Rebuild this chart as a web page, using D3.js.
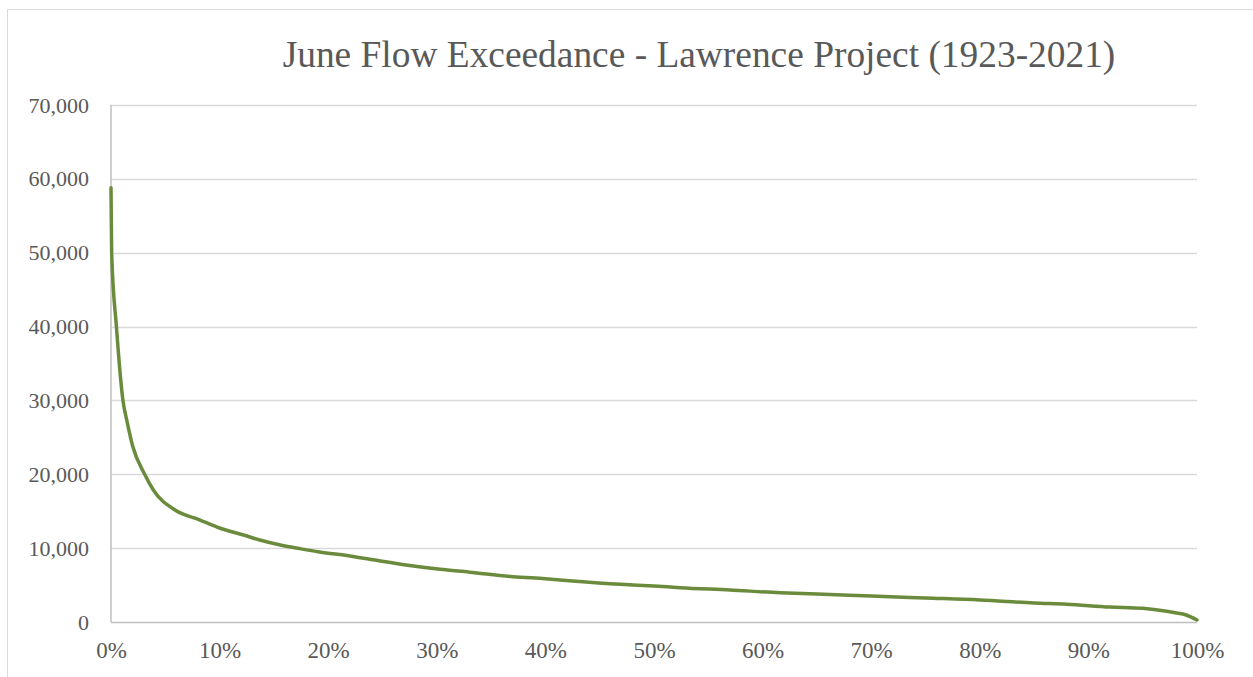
<!DOCTYPE html>
<html>
<head>
<meta charset="utf-8">
<script src="https://cdn.jsdelivr.net/npm/d3@7"></script>
<style>
  html, body { margin: 0; padding: 0; background: #ffffff; }
  svg { display: block; }
</style>
</head>
<body>
<svg id="chart" width="1253" height="677"></svg>
<script>
// ---- data ----
const chartTitle = "June Flow Exceedance - Lawrence Project (1923-2021)";
const exceedancePct = [0, 0.06, 0.5, 1.1, 1.5, 2.0, 3.1, 3.9, 5.9, 8.2, 10.0, 12.2, 13.7, 15.6, 17.5, 19.2, 22, 24.8, 27, 30.3, 33, 37.0, 40, 42.5, 46.9, 50, 52.4, 57, 61.6, 65, 70, 75, 80, 85, 88, 92, 95, 97.2, 98, 99, 100];
const flowCfs       = [58800, 50000, 40000, 30000, 27000, 23800, 20000, 17870, 15160, 13810, 12730, 11780, 11100, 10420, 9900, 9480, 8950, 8250, 7750, 7130, 6750, 6140, 5850, 5550, 5100, 4870, 4650, 4330, 3970, 3800, 3520, 3250, 2980, 2570, 2400, 2030, 1850, 1450, 1250, 950, 270];
const yTicks = [0, 10000, 20000, 30000, 40000, 50000, 60000, 70000];
const xTicks = [0, 10, 20, 30, 40, 50, 60, 70, 80, 90, 100];

const data = exceedancePct.map((p, i) => ({ p, v: flowCfs[i] }));

// ---- layout ----
const svg = d3.select("#chart");
const L = 111, R = 1197, T = 105, B = 622;
const textColor = "#595959";
const font = "'Liberation Serif', 'Times New Roman', serif";

// outer chart border
svg.append("rect")
  .attr("x", 7.5).attr("y", 9.5)
  .attr("width", 1300).attr("height", 700)
  .attr("fill", "none").attr("stroke", "#d9d9d9").attr("stroke-width", 1);

const x = d3.scaleLinear().domain([0, 100]).range([L, R]);
const y = d3.scaleLinear().domain([0, 70000]).range([B, T]);

// gridlines
svg.append("g")
  .selectAll("line")
  .data(yTicks.filter(d => d > 0))
  .join("line")
  .attr("x1", L).attr("x2", R)
  .attr("y1", d => Math.round(y(d)) + 0.5).attr("y2", d => Math.round(y(d)) + 0.5)
  .attr("stroke", "#d9d9d9").attr("stroke-width", 1.5);

// y axis labels
const yAxis = d3.axisLeft(y).tickValues(yTicks).tickSize(0).tickPadding(22)
  .tickFormat(d3.format(","));
const gy = svg.append("g").attr("transform", `translate(${L},0)`).call(yAxis);
gy.select(".domain").remove();
gy.selectAll("text").attr("fill", textColor).style("font-family", font).style("font-size", "22px");

// x axis labels
const xAxis = d3.axisBottom(x).tickValues(xTicks).tickSize(0).tickPadding(20)
  .tickFormat(d => d + "%");
const gx = svg.append("g").attr("transform", `translate(0,${B})`).call(xAxis);
gx.select(".domain").remove();
gx.selectAll("text").attr("fill", textColor).style("font-family", font).style("font-size", "23px");

// axis lines
svg.append("line").attr("x1", L).attr("x2", L).attr("y1", T).attr("y2", B)
  .attr("stroke", "#bfbfbf").attr("stroke-width", 1.5);
svg.append("line").attr("x1", L).attr("x2", R).attr("y1", B + 0.5).attr("y2", B + 0.5)
  .attr("stroke", "#bfbfbf").attr("stroke-width", 1.5);

// line
const line = d3.line().x(d => x(d.p)).y(d => y(d.v)).curve(d3.curveMonotoneX);
svg.append("path").datum(data)
  .attr("d", line)
  .attr("fill", "none")
  .attr("stroke", "#6a8b3b")
  .attr("stroke-width", 3.5)
  .attr("stroke-linejoin", "round")
  .attr("stroke-linecap", "round");

// title
svg.append("text")
  .attr("x", 699).attr("y", 67)
  .attr("text-anchor", "middle")
  .attr("fill", textColor)
  .style("font-family", font)
  .style("font-size", "37.4px")
  .text(chartTitle);
</script>
</body>
</html>
